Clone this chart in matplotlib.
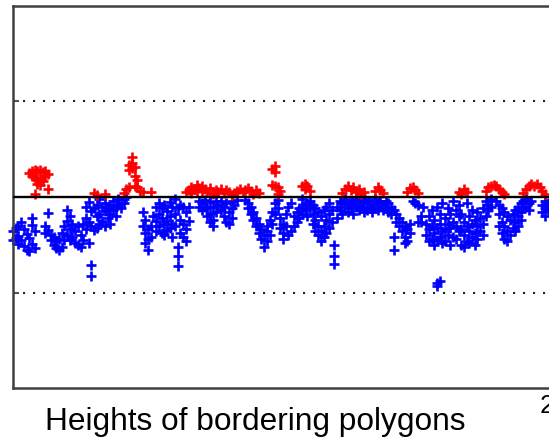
import numpy as np
import matplotlib
matplotlib.use("Agg")
import matplotlib.pyplot as plt
from matplotlib.transforms import ScaledTranslation

# heights per polygon index (below zero -> blue, above zero -> red)
blue_heights = {
    0: [-0.36, -0.45], 1: [-0.32, -0.43], 2: [-0.30, -0.41, -0.49], 3: [-0.26, -0.45],
    4: [-0.34, -0.51], 5: [-0.39, -0.55], 6: [-0.43, -0.57], 7: [-0.22, -0.29, -0.49],
    8: [-0.36, -0.53],
    12: [-0.30, -0.38], 13: [-0.17, -0.35], 14: [-0.40, -0.45], 15: [-0.42, -0.50],
    16: [-0.46, -0.53], 17: [-0.44, -0.55], 18: [-0.38, -0.52], 19: [-0.30, -0.45],
    20: [-0.14, -0.25, -0.40], 21: [-0.20, -0.33, -0.45], 22: [-0.28, -0.42],
    23: [-0.36, -0.48], 24: [-0.30, -0.50], 25: [-0.40, -0.52], 26: [-0.28, -0.45],
    27: [-0.10, -0.22, -0.34], 28: [-0.05, -0.26, -0.48], 29: [-0.15, -0.30, -0.71, -0.83],
    30: [-0.12, -0.35], 31: [-0.08, -0.20, -0.32], 32: [-0.02, -0.18, -0.28],
    33: [-0.10, -0.25], 34: [-0.06, -0.15, -0.30], 35: [-0.12, -0.22],
    36: [-0.08, -0.18, -0.28], 37: [-0.04, -0.14], 38: [-0.10, -0.20],
    39: [-0.02, -0.08], 40: [-0.06, -0.12], 41: [-0.02, -0.06], 42: [0.0],
    48: [-0.16, -0.30], 49: [-0.24, -0.38, -0.48], 50: [-0.34, -0.44, -0.55],
    51: [-0.42, -0.30], 52: [-0.20], 53: [-0.10, -0.25, -0.36], 54: [-0.06, -0.18, -0.30],
    55: [-0.12, -0.22, -0.38], 56: [-0.08, -0.28, -0.40], 57: [-0.15, -0.25, -0.35],
    58: [-0.05, -0.20, -0.32], 59: [-0.10, -0.28, -0.42], 60: [-0.02, -0.18, -0.30],
    61: [-0.12, -0.52, -0.62, -0.72], 62: [-0.08, -0.24, -0.38], 63: [-0.10, -0.28, -0.42],
    64: [-0.16, -0.34, -0.46], 65: [-0.10, -0.25],
    69: [-0.10, -0.04], 70: [-0.06, -0.14], 71: [-0.03, -0.10], 72: [-0.12, -0.20],
    73: [-0.05, -0.18, -0.26], 74: [-0.10, -0.24, -0.30], 75: [-0.04, -0.16], 76: [-0.08],
    77: [-0.04, -0.14], 78: [-0.10, -0.20], 79: [-0.06, -0.26], 80: [-0.16, -0.28],
    81: [-0.04, -0.12, -0.22], 82: [-0.08], 83: [-0.03],
    86: [-0.03], 87: [-0.06, -0.12], 88: [-0.10, -0.18], 89: [-0.16, -0.24],
    90: [-0.22, -0.30], 91: [-0.28, -0.38], 92: [-0.34, -0.44], 93: [-0.40, -0.52],
    94: [-0.46, -0.30, -0.36], 95: [-0.24, -0.40], 96: [-0.16, -0.28],
    97: [-0.06, -0.18], 98: [-0.03, -0.12], 99: [-0.22, -0.32],
    100: [-0.38, -0.44, -0.28], 101: [-0.30, -0.18], 102: [-0.10, -0.40],
    103: [-0.06, -0.36], 104: [-0.30, -0.20], 105: [-0.26, -0.16], 106: [-0.22, -0.12],
    107: [-0.02, -0.18, -0.10], 108: [-0.08, -0.14], 109: [-0.06, -0.20], 110: [-0.04, -0.12],
    111: [-0.08, -0.18, -0.28], 112: [-0.12, -0.24, -0.36], 113: [-0.16, -0.30, -0.40],
    114: [-0.20, -0.36, -0.46], 115: [-0.14, -0.30, -0.42], 116: [-0.10, -0.24, -0.38],
    117: [-0.06, -0.18, -0.32], 118: [-0.14, -0.26], 119: [-0.50, -0.62, -0.70],
    120: [-0.10, -0.22], 121: [-0.04, -0.14], 122: [-0.06, -0.18], 123: [-0.02, -0.10],
    124: [-0.08, -0.16], 125: [-0.04, -0.12], 126: [-0.06, -0.18], 127: [-0.02, -0.10],
    128: [-0.08, -0.14], 129: [-0.04, -0.12], 130: [-0.02, -0.10, -0.16],
    131: [-0.06, -0.14], 132: [-0.04, -0.12], 133: [-0.08, -0.16], 134: [-0.02, -0.12],
    135: [-0.06, -0.14], 136: [-0.04, -0.10], 137: [-0.08, -0.14], 138: [-0.04, -0.12],
    139: [-0.06, -0.16], 140: [-0.10, -0.18], 141: [-0.14, -0.42, -0.55],
    142: [-0.18, -0.26], 143: [-0.22, -0.30], 144: [-0.26, -0.36], 145: [-0.30, -0.42, -0.48],
    146: [-0.34, -0.46], 147: [-0.38, -0.28], 148: [-0.04], 149: [-0.06],
    150: [-0.08, -0.26], 151: [-0.20, -0.26], 152: [-0.10], 153: [-0.28, -0.40],
    154: [-0.20, -0.34, -0.46], 155: [-0.14, -0.30, -0.44], 156: [-0.24, -0.38, -0.50],
    157: [-0.10, -0.32, -0.45, -0.90, -0.93], 158: [-0.18, -0.28, -0.42, -0.88],
    159: [-0.06, -0.36, -0.48], 160: [-0.22, -0.34, -0.46], 161: [-0.12, -0.28, -0.40],
    162: [-0.18, -0.32, -0.50], 163: [-0.04, -0.26, -0.42], 164: [-0.14, -0.30, -0.44],
    165: [-0.08, -0.20, -0.36], 166: [-0.18, -0.34, -0.50], 167: [-0.26, -0.40, -0.52],
    168: [-0.06, -0.30, -0.46], 169: [-0.20, -0.36, -0.48], 170: [-0.14, -0.28, -0.42],
    171: [-0.24, -0.38, -0.50], 172: [-0.16, -0.30, -0.44], 173: [-0.22, -0.36],
    174: [-0.12, -0.28, -0.40], 175: [-0.04, -0.20], 176: [-0.08, -0.14], 177: [-0.02, -0.10],
    179: [-0.04], 180: [-0.08, -0.18, -0.30], 181: [-0.12, -0.26, -0.38],
    182: [-0.16, -0.30, -0.44], 183: [-0.20, -0.36, -0.46], 184: [-0.24, -0.40],
    185: [-0.18, -0.32], 186: [-0.14, -0.26, -0.36], 187: [-0.10, -0.20, -0.30],
    188: [-0.06, -0.16, -0.24], 189: [-0.04, -0.12], 190: [-0.02, -0.10], 191: [-0.06, -0.14],
    192: [-0.04], 196: [-0.08, -0.16], 197: [-0.04, -0.12, -0.20], 198: [-0.06, -0.14],
}

red_heights = {
    6: [0.25], 7: [0.27, 0.22], 8: [0.28, 0.20, 0.03], 9: [0.27, 0.18, 0.14],
    10: [0.28, 0.20, 0.13], 11: [0.26, 0.17], 12: [0.27, 0.22], 13: [0.24, 0.08],
    30: [0.04], 31: [0.02], 34: [0.03], 41: [0.04], 42: [0.08],
    43: [0.33, 0.28, 0.10], 44: [0.42, 0.36, 0.30], 45: [0.31, 0.22, 0.12],
    46: [0.18, 0.10], 47: [0.06], 48: [0.05], 51: [0.05],
    64: [0.05], 65: [0.07], 66: [0.10, 0.04], 67: [0.08], 68: [0.13, 0.06], 69: [0.09],
    70: [0.06, 0.11], 71: [0.08], 72: [0.05], 73: [0.09], 74: [0.03], 75: [0.07],
    76: [0.05], 77: [0.08], 78: [0.04], 79: [0.07], 80: [0.05], 81: [0.02], 82: [0.04],
    83: [0.06], 84: [0.08], 85: [0.05], 86: [0.07], 87: [0.09], 88: [0.06], 89: [0.03],
    90: [0.07], 91: [0.04],
    96: [0.29, 0.13], 97: [0.32, 0.26, 0.12], 98: [0.10, 0.03], 99: [0.06],
    107: [0.12], 108: [0.14, 0.08], 109: [0.11], 110: [0.06],
    122: [0.04], 123: [0.08], 124: [0.11], 125: [0.07], 126: [0.10], 127: [0.05],
    128: [0.08], 129: [0.03], 130: [0.05],
    134: [0.06], 135: [0.10], 136: [0.07], 137: [0.04],
    146: [0.05], 147: [0.09], 148: [0.10], 149: [0.07], 150: [0.04],
    165: [0.05], 166: [0.03], 167: [0.08], 168: [0.05],
    175: [0.06], 176: [0.10], 177: [0.12], 178: [0.13], 179: [0.11], 180: [0.08],
    181: [0.05], 182: [0.03],
    189: [0.04], 190: [0.08], 191: [0.11], 192: [0.14], 193: [0.12], 194: [0.14],
    195: [0.10], 196: [0.06], 197: [0.03],
}

x_ticks = [200]
y_grid = [-1, 1]
caption = "Heights of bordering polygons"


def flatten(heights):
    xs, ys = [], []
    for idx, vals in heights.items():
        for v in vals:
            xs.append(idx)
            ys.append(v)
    return np.array(xs), np.array(ys)


bx, by = flatten(blue_heights)
rx, ry = flatten(red_heights)

W, H = 549, 440
fig = plt.figure(figsize=(W / 100, H / 100), dpi=100)
# axes runs past the right edge of the picture (cropped view)
ax = fig.add_axes([13 / W, 52 / H, 216 * 2.7 / W, 382 / H])

ax.plot(bx, by, "+", color="#0000ff", markersize=7.5, markeredgewidth=1.9, clip_on=False)
ax.plot(rx, ry, "+", color="#ff0000", markersize=7.5, markeredgewidth=1.9, clip_on=False)
ax.axhline(0, color="black", linewidth=1.7, zorder=5)
for g in y_grid:
    ax.axhline(g, color="#222222", linewidth=1.5, linestyle=(0, (1, 3.8)), zorder=1)

ax.set_xlim(0, 216)
ax.set_ylim(-2, 2)
ax.set_xticks(x_ticks)
ax.set_xticklabels([str(t) for t in x_ticks], fontsize=19, family="Liberation Sans")
ax.set_yticks([-1, 0, 1])
ax.set_yticklabels([])
ax.tick_params(direction="in", length=4, width=1.2, color="#333333", pad=4)
shift = ScaledTranslation(9 / 100, 0, fig.dpi_scale_trans)
for lab in ax.get_xticklabels():
    lab.set_transform(lab.get_transform() + shift)
for s in ax.spines.values():
    s.set_color("#404040")
    s.set_linewidth(1.8)

fig.text(255.5 / W, 10 / H, caption, ha="center", va="baseline",
         fontsize=22.8, family="Liberation Sans")

fig.savefig("out.png", dpi=100)
